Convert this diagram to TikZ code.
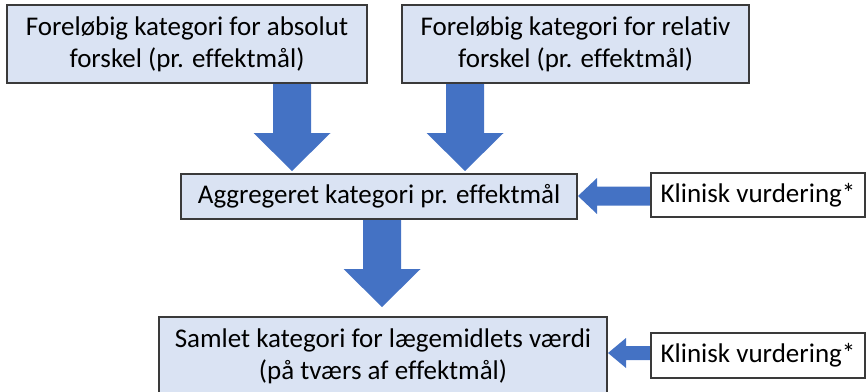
\documentclass[tikz,border=0pt]{standalone}
\usepackage{fontspec}
\setmainfont{Carlito}[Ligatures={NoCommon}]
\usetikzlibrary{calc,backgrounds}
\definecolor{boxfill}{HTML}{DAE3F3}
\definecolor{boxline}{HTML}{3A3A3A}
\definecolor{arrowblue}{HTML}{4472C4}
\newcommand{\ArrowDown}[2]{%
  \fill[blockarrow] let \p1=(#1), \p2=(#2) in
    (\x2-19pt,\y1) -- (\x2-19pt,\y2+38pt) -- (\x2-38.5pt,\y2+38pt) -- (\x2,\y2)
    -- (\x2+38.5pt,\y2+38pt) -- (\x2+19pt,\y2+38pt) -- (\x2+19pt,\y1) -- cycle;}
\newcommand{\ArrowLeft}[5]{%
  \fill[blockarrow] let \p1=(#1), \p2=(#2) in
    (\x1,\y2+#5) -- (\x2+#3,\y2+#5) -- (\x2+#3,\y2+#4) -- (\x2,\y2)
    -- (\x2+#3,\y2-#4) -- (\x2+#3,\y2-#5) -- (\x1,\y2-#5) -- cycle;}
\tikzset{
  bluebox/.style={draw=boxline, fill=boxfill, line width=1.1pt, inner sep=0pt,
    align=center, font=\fontsize{27}{32}\selectfont, text=black},
  whitebox/.style={bluebox, fill=white},
  blockarrow/.style={fill=arrowblue}
}
\begin{document}
\begin{tikzpicture}[x=1pt,y=-1pt]
\useasboundingbox (0,0) rectangle (866,391);
\clip (0,0) rectangle (866,391);
\node[bluebox, minimum width=360pt, minimum height=78pt] (A) at (187,44)
  {Foreløbig kategori for absolut\\forskel (pr. effektmål)};
\node[bluebox, minimum width=347pt, minimum height=78pt] (B) at (575.5,44)
  {Foreløbig kategori for relativ\\forskel (pr. effektmål)};
\node[bluebox, minimum width=396pt, minimum height=45pt] (C) at (379,196.5)
  {Aggregeret kategori pr. effektmål};
\node[whitebox, minimum width=214pt, minimum height=44pt] (K1) at (758,195)
  {Klinisk vurdering*};
\node[bluebox, minimum width=448pt, minimum height=78pt] (D) at (383,356)
  {Samlet kategori for lægemidlets værdi\\(på tværs af effektmål)};
\node[whitebox, minimum width=214pt, minimum height=45pt] (K2) at (758,355.5)
  {Klinisk vurdering*};
\coordinate (tA) at (292,171);
\coordinate (tB) at (465,171);
\coordinate (tC) at (382,307);
\coordinate (tK1) at (578,196);
\coordinate (tK2) at (608,353);
\begin{scope}[on background layer]
\ArrowDown{A.south -| tA}{tA}
\ArrowDown{B.south -| tB}{tB}
\ArrowDown{C.south -| tC}{tC}
\ArrowLeft{K1.west}{tK1}{19pt}{18pt}{9.5pt}
\ArrowLeft{K2.west}{tK2}{18pt}{15pt}{7pt}
\end{scope}
\end{tikzpicture}
\end{document}
